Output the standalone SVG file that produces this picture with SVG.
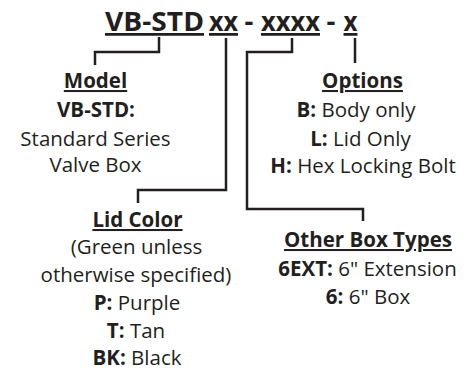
<svg xmlns="http://www.w3.org/2000/svg" width="476" height="371" viewBox="0 0 476 371">
<style>
text{font-family:"Open Sans","Noto Sans","Liberation Sans",sans-serif;fill:#231f20;font-size:20.5px}
.c{text-anchor:middle}
.b{font-weight:700}
.u{text-decoration:underline}
.t{font-size:27.5px;font-weight:700}
.con{fill:none;stroke:#231f20;stroke-width:2.5;stroke-linejoin:miter;stroke-linecap:butt}
</style>
<rect width="476" height="371" fill="#ffffff"/>
<g id="title">
<text class="t u" x="105" y="31" textLength="99" lengthAdjust="spacingAndGlyphs">VB-STD</text>
<text class="t u" x="209" y="31" textLength="29" lengthAdjust="spacingAndGlyphs">xx</text>
<text class="t" x="244.5" y="31">-</text>
<text class="t u" x="261" y="31" textLength="59" lengthAdjust="spacingAndGlyphs">xxxx</text>
<text class="t" x="326.5" y="31">-</text>
<text class="t u" x="343.5" y="31" textLength="14" lengthAdjust="spacingAndGlyphs">x</text>
</g>
<g id="connectors">
<path class="con" d="M159,37 V52 H95 V65"/>
<path class="con" d="M226,38 V190 H138 V203"/>
<path class="con" d="M292,38 V52 H247 V209 H363 V221"/>
<path class="con" d="M355,38 V63"/>
</g>
<g id="model">
<text class="c b u" x="95.5" y="88">Model</text>
<text class="c b" x="96" y="116.5">VB-STD:</text>
<text class="c" x="95.5" y="145.5">Standard Series</text>
<text class="c" x="95.5" y="172">Valve Box</text>
</g>
<g id="options">
<text class="c b u" x="362.5" y="88">Options</text>
<text class="c" x="356" y="116.5"><tspan class="b">B:</tspan> Body only</text>
<text class="c" x="360.5" y="145.5"><tspan class="b">L:</tspan> Lid Only</text>
<text class="c" x="363" y="172.5"><tspan class="b">H:</tspan> Hex Locking Bolt</text>
</g>
<g id="lid-color">
<text class="c b u" x="137.5" y="227">Lid Color</text>
<text class="c" x="136.5" y="253.5">(Green unless</text>
<text class="c" x="136" y="282">otherwise specified)</text>
<text class="c" x="137" y="310"><tspan class="b">P:</tspan> Purple</text>
<text class="c" x="136" y="338"><tspan class="b">T:</tspan> Tan</text>
<text class="c" x="137" y="365"><tspan class="b">BK:</tspan> Black</text>
</g>
<g id="other-box-types">
<text class="c b u" x="368" y="247">Other Box Types</text>
<text class="c" x="367.5" y="276"><tspan class="b">6EXT:</tspan> 6" Extension</text>
<text class="c" x="368" y="304"><tspan class="b">6:</tspan> 6" Box</text>
</g>
</svg>
